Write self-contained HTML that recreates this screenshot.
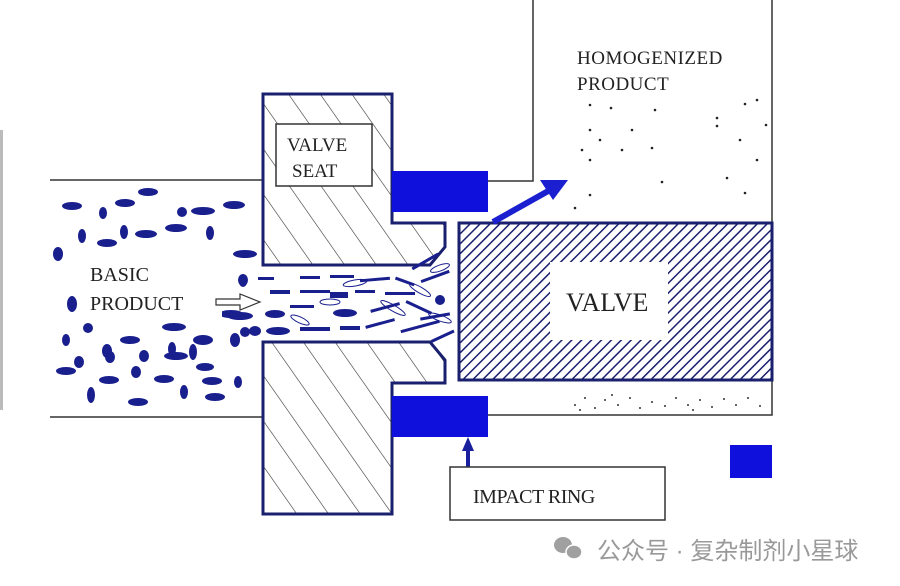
<!DOCTYPE html>
<html><head><meta charset="utf-8"><style>
html,body{margin:0;padding:0;background:#fff;}
svg{display:block;}
.t{font-family:"Liberation Serif",serif;fill:#222;}
</style></head><body>
<svg width="900" height="586" viewBox="0 0 900 586" xmlns="http://www.w3.org/2000/svg">
<defs>
<pattern id="h1" patternUnits="userSpaceOnUse" width="26" height="26" patternTransform="rotate(-35)">
<line x1="0" y1="0" x2="0" y2="26" stroke="#333" stroke-width="1.2"/></pattern>
<pattern id="h2" patternUnits="userSpaceOnUse" width="7" height="7" patternTransform="rotate(45)">
<line x1="0" y1="0" x2="0" y2="7" stroke="#1a1f6e" stroke-width="3"/></pattern>
</defs>
<rect x="0" y="130" width="3" height="280" fill="#bbb"/>
<line x1="50" y1="180" x2="263" y2="180" stroke="#333" stroke-width="1.5"/>
<line x1="50" y1="417" x2="263" y2="417" stroke="#333" stroke-width="1.5"/>
<polyline points="533,0 533,181 488,181" fill="none" stroke="#333" stroke-width="1.5"/>
<line x1="772" y1="0" x2="772" y2="222" stroke="#333" stroke-width="1.5"/>
<polyline points="488,415 772,415 772,380" fill="none" stroke="#333" stroke-width="1.5"/>
<path d="M263,94 H392 V223 H445 V247 L430,265 H263 Z" fill="url(#h1)" stroke="#1a1f6e" stroke-width="3"/>
<path d="M263,342 H430 L445,360 V383 H392 V514 H263 Z" fill="url(#h1)" stroke="#1a1f6e" stroke-width="3"/>
<rect x="276" y="124" width="96" height="62" fill="#fff" stroke="#333" stroke-width="1.5"/>
<text class="t" x="287" y="151" font-size="19">VALVE</text>
<text class="t" x="292" y="177" font-size="19">SEAT</text>
<rect x="392" y="171" width="96" height="41" fill="#1010dd"/>
<rect x="392" y="396" width="96" height="41" fill="#1010dd"/>
<rect x="730" y="445" width="42" height="33" fill="#1010dd"/>
<rect x="459" y="223" width="313" height="157" fill="url(#h2)" stroke="#1a1f6e" stroke-width="3"/>
<rect x="550" y="262" width="118" height="78" fill="#fff"/>
<text class="t" x="566" y="311" font-size="26">VALVE</text>
<line x1="493" y1="222" x2="550" y2="190" stroke="#1a1fd0" stroke-width="6"/>
<polygon points="568,180 540,180 553,200" fill="#1a1fd0"/>
<line x1="468" y1="467" x2="468" y2="448" stroke="#1a1f9e" stroke-width="4"/>
<polygon points="468,437 462,451 474,451" fill="#1a1f9e"/>
<rect x="450" y="467" width="215" height="53" fill="#fff" stroke="#333" stroke-width="1.5"/>
<text class="t" x="473" y="503" font-size="20" letter-spacing="-0.5">IMPACT RING</text>
<text class="t" x="577" y="64" font-size="19" letter-spacing="0.5">HOMOGENIZED</text>
<text class="t" x="577" y="90" font-size="19" letter-spacing="0.5">PRODUCT</text>
<g fill="#222">
<circle cx="590" cy="105" r="1.3"/><circle cx="611" cy="108" r="1.3"/><circle cx="655" cy="110" r="1.3"/><circle cx="745" cy="104" r="1.3"/><circle cx="757" cy="100" r="1.3"/>
<circle cx="717" cy="118" r="1.3"/><circle cx="717" cy="126" r="1.3"/><circle cx="590" cy="130" r="1.3"/><circle cx="632" cy="130" r="1.3"/><circle cx="766" cy="125" r="1.3"/>
<circle cx="600" cy="140" r="1.3"/><circle cx="582" cy="150" r="1.3"/><circle cx="622" cy="150" r="1.3"/><circle cx="652" cy="148" r="1.3"/><circle cx="740" cy="140" r="1.3"/>
<circle cx="590" cy="160" r="1.3"/><circle cx="757" cy="160" r="1.3"/><circle cx="662" cy="182" r="1.3"/><circle cx="727" cy="178" r="1.3"/><circle cx="590" cy="195" r="1.3"/><circle cx="575" cy="208" r="1.3"/><circle cx="745" cy="193" r="1.3"/>
</g>
<g fill="#333">
<circle cx="575" cy="405" r="1"/><circle cx="585" cy="398" r="1"/><circle cx="595" cy="408" r="1"/><circle cx="605" cy="400" r="1"/><circle cx="618" cy="405" r="1"/><circle cx="630" cy="398" r="1"/><circle cx="640" cy="408" r="1"/><circle cx="652" cy="402" r="1"/><circle cx="665" cy="406" r="1"/><circle cx="676" cy="398" r="1"/><circle cx="688" cy="405" r="1"/><circle cx="700" cy="400" r="1"/><circle cx="712" cy="407" r="1"/><circle cx="724" cy="399" r="1"/><circle cx="736" cy="405" r="1"/><circle cx="748" cy="398" r="1"/><circle cx="760" cy="406" r="1"/><circle cx="580" cy="410" r="1"/><circle cx="612" cy="395" r="1"/><circle cx="693" cy="410" r="1"/>
</g>
<g fill="#1a1f8e">
<ellipse cx="148" cy="192" rx="10" ry="4"/><ellipse cx="72" cy="206" rx="10" ry="4"/><ellipse cx="125" cy="203" rx="10" ry="4"/><ellipse cx="103" cy="213" rx="4" ry="6"/><ellipse cx="182" cy="212" rx="5" ry="5"/><ellipse cx="203" cy="211" rx="12" ry="4"/><ellipse cx="234" cy="205" rx="11" ry="4"/>
<ellipse cx="82" cy="236" rx="4" ry="7"/><ellipse cx="124" cy="232" rx="4" ry="7"/><ellipse cx="146" cy="234" rx="11" ry="4"/><ellipse cx="176" cy="228" rx="11" ry="4"/><ellipse cx="210" cy="233" rx="4" ry="7"/><ellipse cx="107" cy="243" rx="10" ry="4"/><ellipse cx="58" cy="254" rx="5" ry="7"/><ellipse cx="245" cy="254" rx="12" ry="4"/>
<ellipse cx="72" cy="304" rx="5" ry="8"/><ellipse cx="243" cy="280" rx="5" ry="6"/><ellipse cx="231" cy="314" rx="12" ry="4"/><ellipse cx="245" cy="332" rx="5" ry="5"/>
<ellipse cx="88" cy="328" rx="5" ry="5"/><ellipse cx="174" cy="327" rx="12" ry="4"/><ellipse cx="130" cy="340" rx="10" ry="4"/><ellipse cx="107" cy="351" rx="5" ry="7"/><ellipse cx="172" cy="349" rx="4" ry="7"/><ellipse cx="203" cy="340" rx="10" ry="5"/><ellipse cx="235" cy="340" rx="5" ry="7"/>
<ellipse cx="66" cy="340" rx="4" ry="6"/><ellipse cx="79" cy="362" rx="5" ry="6"/><ellipse cx="110" cy="357" rx="5" ry="6"/><ellipse cx="144" cy="356" rx="5" ry="6"/><ellipse cx="176" cy="356" rx="12" ry="4"/><ellipse cx="193" cy="352" rx="4" ry="8"/>
<ellipse cx="66" cy="371" rx="10" ry="4"/><ellipse cx="109" cy="380" rx="10" ry="4"/><ellipse cx="136" cy="372" rx="5" ry="6"/><ellipse cx="164" cy="379" rx="10" ry="4"/><ellipse cx="212" cy="381" rx="10" ry="4"/><ellipse cx="238" cy="382" rx="4" ry="6"/><ellipse cx="205" cy="367" rx="9" ry="4"/>
<ellipse cx="91" cy="395" rx="4" ry="8"/><ellipse cx="138" cy="402" rx="10" ry="4"/><ellipse cx="184" cy="392" rx="4" ry="7"/><ellipse cx="215" cy="397" rx="10" ry="4"/>
</g>
<g fill="#1a1f8e">
<ellipse cx="243" cy="282" rx="4" ry="5"/><rect x="258" y="277" width="16" height="3"/><rect x="300" y="276" width="20" height="3"/><rect x="330" y="275" width="24" height="3"/><rect x="360" y="278" width="30" height="3" transform="rotate(-5 375 280)"/><rect x="395" y="280" width="20" height="3" transform="rotate(20 405 281)"/>
<rect x="270" y="290" width="20" height="4"/><rect x="300" y="290" width="30" height="3"/><rect x="330" y="292" width="18" height="6"/><rect x="355" y="290" width="20" height="3"/><rect x="385" y="292" width="30" height="3"/>
<ellipse cx="240" cy="316" rx="13" ry="4"/><ellipse cx="275" cy="314" rx="10" ry="4"/><rect x="290" y="305" width="24" height="3"/><ellipse cx="345" cy="313" rx="12" ry="4"/><rect x="370" y="306" width="30" height="3" transform="rotate(-15 385 307)"/><rect x="405" y="306" width="28" height="3" transform="rotate(25 419 307)"/>
<ellipse cx="255" cy="331" rx="6" ry="5"/><ellipse cx="278" cy="331" rx="12" ry="4"/><rect x="300" y="327" width="30" height="4"/><rect x="340" y="326" width="20" height="4"/><rect x="365" y="322" width="30" height="3" transform="rotate(-15 380 323)"/><rect x="400" y="325" width="40" height="3" transform="rotate(-15 420 326)"/>
<rect x="410" y="260" width="30" height="3" transform="rotate(-30 425 261)"/><rect x="420" y="275" width="30" height="3" transform="rotate(-20 435 276)"/><ellipse cx="440" cy="300" rx="5" ry="5"/><rect x="420" y="315" width="30" height="3" transform="rotate(-10 435 316)"/><rect x="430" y="335" width="25" height="3" transform="rotate(-25 442 336)"/>
</g>
<g fill="none" stroke="#1a1f8e" stroke-width="1">
<ellipse cx="355" cy="283" rx="12" ry="3" transform="rotate(-10 355 283)"/><ellipse cx="393" cy="308" rx="14" ry="3" transform="rotate(30 393 308)"/><ellipse cx="420" cy="290" rx="12" ry="3" transform="rotate(30 420 290)"/><ellipse cx="440" cy="318" rx="12" ry="3" transform="rotate(20 440 318)"/><ellipse cx="300" cy="320" rx="10" ry="3" transform="rotate(25 300 320)"/><ellipse cx="330" cy="302" rx="10" ry="3"/><ellipse cx="440" cy="268" rx="10" ry="3" transform="rotate(-20 440 268)"/>
</g>
<rect x="82" y="255" width="140" height="62" fill="#fff"/>
<text class="t" x="90" y="281" font-size="20">BASIC</text>
<text class="t" x="90" y="310" font-size="20">PRODUCT</text>
<polygon points="216,299 240,299 240,294 260,302 240,310 240,305 216,305" fill="#fff" stroke="#333" stroke-width="1.2"/>
<g fill="#a0a0a0">
<ellipse cx="563" cy="545" rx="9" ry="8"/><ellipse cx="574" cy="552" rx="8" ry="7" stroke="#fff" stroke-width="1.5"/>
</g>
<text x="597" y="559" font-size="24" fill="#999" font-family="'Liberation Sans','Noto Sans CJK SC',sans-serif">公众号 · 复杂制剂小星球</text>
</svg>
</body></html>
